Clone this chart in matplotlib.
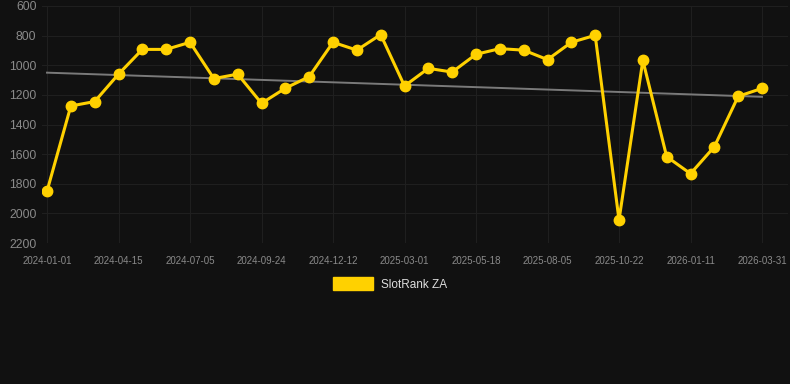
import numpy as np
import matplotlib.pyplot as plt
from matplotlib.patches import Patch

# ---- 数据 ----
ranks = [1850, 1275, 1245, 1060, 893, 893, 845, 1090, 1060, 1257,
         1155, 1077, 845, 898, 793, 1140, 1021, 1046, 926, 888,
         898, 962, 845, 798, 2045, 967, 1617, 1732, 1550, 1210, 1156]
tick_labels = ["2024-01-01", "2024-04-15", "2024-07-05", "2024-09-24",
               "2024-12-12", "2025-03-01", "2025-05-18", "2025-08-05",
               "2025-10-22", "2026-01-11", "2026-03-31"]
trend_vals = [1050, 1213]
series_name = "SlotRank ZA"

BG = "#111111"
YELLOW = "#FFD100"

plt.rcParams['font.family'] = ['Liberation Sans', 'DejaVu Sans']

fig = plt.figure(figsize=(7.9, 3.84), dpi=100, facecolor=BG)
ax = fig.add_axes([42 / 790, 1 - 243 / 384, 746 / 790, 237 / 384], facecolor=BG)

x = np.arange(len(ranks))
ax.plot([x[0], x[-1]], trend_vals, color="#7a7a7a", lw=1.4, zorder=2)
ax.plot(x, ranks, color=YELLOW, lw=2.2, marker='o', ms=7.5,
        solid_joinstyle='miter', zorder=3)

ax.set_ylim(2200, 600)
ax.set_xlim(-0.21, len(ranks) - 1 + 1.09)
ax.set_yticks(np.arange(600, 2201, 200))
ax.set_xticks(x[::3])
ax.set_xticklabels(tick_labels)

ax.grid(True, color="#1f1f1f", lw=0.8)
ax.set_axisbelow(True)
for s in ax.spines.values():
    s.set_visible(False)
ax.tick_params(axis='y', colors="#8a8a8a", labelsize=8.7, length=0, pad=4)
ax.tick_params(axis='x', colors="#8a8a8a", labelsize=7, length=0, pad=9)

handle = Patch(facecolor=YELLOW, edgecolor=YELLOW)
leg = fig.legend([handle], [series_name], loc='center',
                 bbox_to_anchor=(390 / 790, 1 - 284 / 384), frameon=False,
                 handlelength=3.4, handleheight=1.2, handletextpad=0.6,
                 fontsize=8.5)
for t in leg.get_texts():
    t.set_color("#dddddd")

fig.savefig("out.png", dpi=100, facecolor=BG)
